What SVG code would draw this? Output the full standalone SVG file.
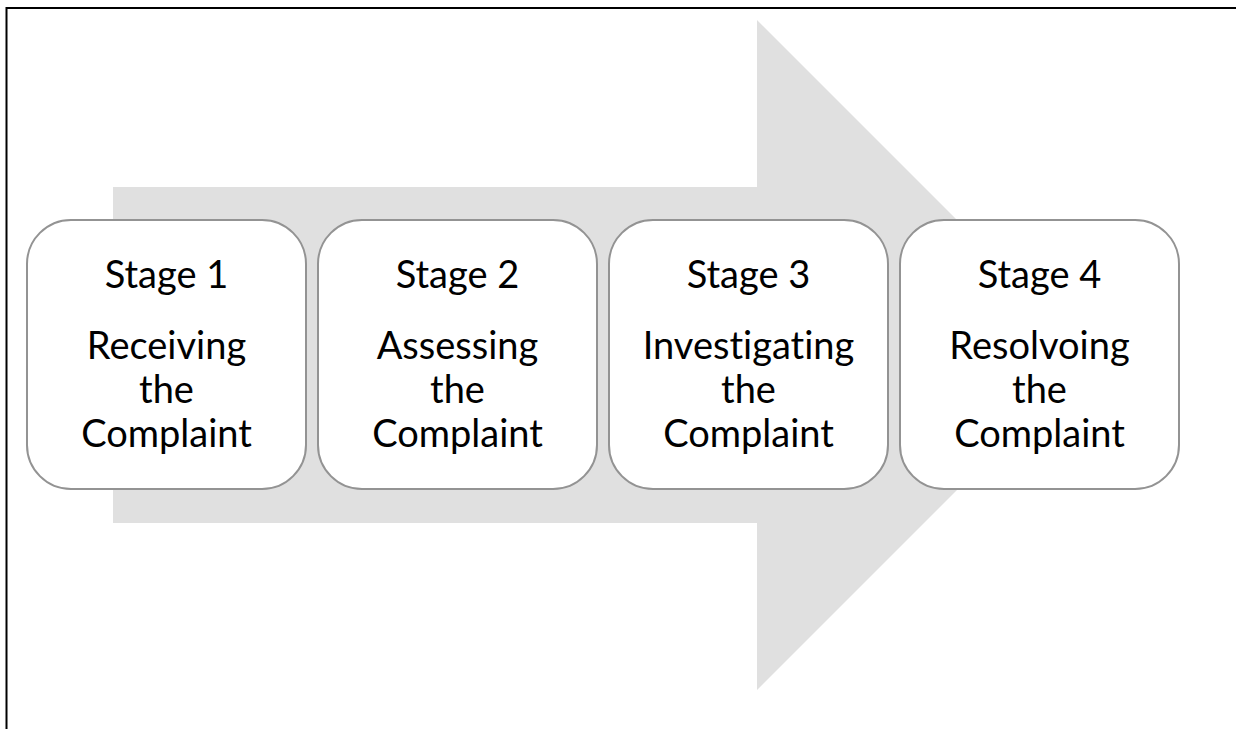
<svg xmlns="http://www.w3.org/2000/svg" width="1236" height="729" viewBox="0 0 1236 729">
  <style>
    .stage { fill: #ffffff; stroke: #939393; stroke-width: 2; }
    .label { font-family: Lato, "Open Sans", "Liberation Sans", sans-serif; font-size: 38px; fill: #000000; text-anchor: middle; font-variant-ligatures: none; }
    .frame { stroke: #000000; stroke-width: 2; fill: none; }
  </style>
  <rect width="1236" height="729" fill="#ffffff"/>
  <!-- page frame: top and left edges -->
  <path class="frame" d="M6.5,729 V8 H1236"/>
  <!-- background process arrow -->
  <g id="arrow">
    <polygon points="113,187 757,187 757,20 1092,355 757,690 757,523 113,523" fill="#e0e0e0"/>
  </g>
  <g id="connectors"></g>
  <g id="stage1">
    <rect class="stage" x="27" y="220" width="279" height="269" rx="44" ry="44"/>
    <text class="label" x="166.5" y="288">Stage 1</text>
    <text class="label" x="166.5" y="359">Receiving</text>
    <text class="label" x="166.5" y="403">the</text>
    <text class="label" x="166.5" y="447">Complaint</text>
  </g>
  <g id="stage2">
    <rect class="stage" x="318" y="220" width="279" height="269" rx="44" ry="44"/>
    <text class="label" x="457.5" y="288">Stage 2</text>
    <text class="label" x="457.5" y="359">Assessing</text>
    <text class="label" x="457.5" y="403">the</text>
    <text class="label" x="457.5" y="447">Complaint</text>
  </g>
  <g id="stage3">
    <rect class="stage" x="609" y="220" width="279" height="269" rx="44" ry="44"/>
    <text class="label" x="748.5" y="288">Stage 3</text>
    <text class="label" x="748.5" y="359">Investigating</text>
    <text class="label" x="748.5" y="403">the</text>
    <text class="label" x="748.5" y="447">Complaint</text>
  </g>
  <g id="stage4">
    <rect class="stage" x="900" y="220" width="279" height="269" rx="44" ry="44"/>
    <text class="label" x="1039.5" y="288">Stage 4</text>
    <text class="label" x="1039.5" y="359">Resolvoing</text>
    <text class="label" x="1039.5" y="403">the</text>
    <text class="label" x="1039.5" y="447">Complaint</text>
  </g>
</svg>
